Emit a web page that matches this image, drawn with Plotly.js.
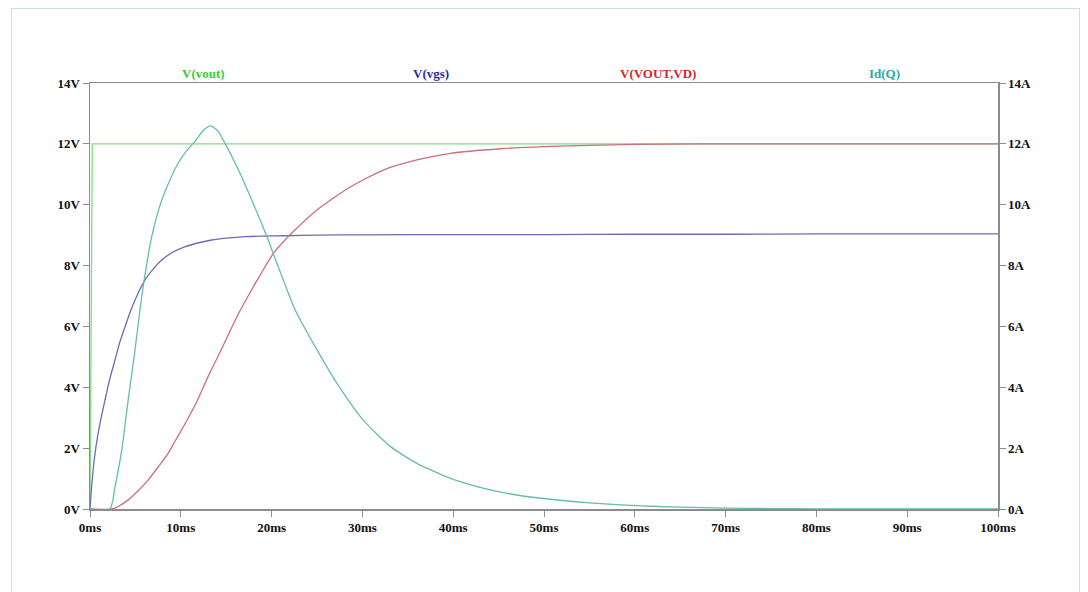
<!DOCTYPE html>
<html>
<head>
<meta charset="utf-8">
<script src="https://cdn.plot.ly/plotly-3.0.1.min.js"></script>
<style>
  html, body { margin: 0; padding: 0; background: #ffffff; }
  #frame { position: absolute; left: 11px; top: 8px; width: 1069px; height: 640px; border: 1px solid #cddfe8; box-sizing: border-box; }
  #chart { position: absolute; left: 0; top: 0; width: 1088px; height: 592px; }
</style>
</head>
<body>
<div id="frame"></div>
<div id="chart"></div>
<script>
// ---- data (time in ms) ----
const seriesNames = ["V(vout)", "V(vgs)", "V(VOUT,VD)", "Id(Q)"];

const tVout = [0, 0.25, 100];
const vVout = [0, 12, 12];

const tVgs = [0, 0.18, 0.5, 0.9, 1.3, 1.65, 2.2, 2.76, 3.3, 3.86, 4.4, 4.96, 6.06, 7.0, 7.9, 9.0, 10.5, 12.0, 13.4, 15.0, 17.1, 19.0, 21.5, 25, 30, 40, 50, 60, 70, 80, 90, 100];
const vVgs = [0, 0.73, 1.7, 2.49, 3.1, 3.58, 4.3, 4.9, 5.5, 5.99, 6.45, 6.87, 7.53, 7.9, 8.18, 8.42, 8.62, 8.75, 8.84, 8.9, 8.95, 8.97, 8.98, 9.0, 9.01, 9.02, 9.02, 9.03, 9.03, 9.04, 9.04, 9.04];

const tVd = [0, 2.4, 3.2, 4.2, 5.3, 6.4, 7.5, 8.6, 9.5, 10.5, 11.8, 13.0, 14.2, 15.3, 16.4, 17.6, 18.8, 20.2, 22.2, 25, 28.7, 32.3, 36, 39.7, 45.2, 50, 55, 60, 67, 80, 100];
const vVd = [0, 0, 0.1, 0.3, 0.6, 0.95, 1.38, 1.83, 2.3, 2.82, 3.55, 4.35, 5.08, 5.77, 6.45, 7.1, 7.72, 8.4, 9.06, 9.83, 10.59, 11.14, 11.47, 11.69, 11.84, 11.91, 11.95, 11.98, 12.0, 12.0, 12.0];

const tId = [0, 2.2, 2.76, 3.5, 4.2, 4.96, 5.5, 6.06, 6.8, 7.9, 9.4, 10.5, 11.6, 12.5, 13.3, 14.1, 14.9, 15.8, 16.7, 17.6, 18.9, 19.7, 20.5, 21.5, 22.6, 25, 27.2, 30.1, 33.1, 36, 39.7, 43.4, 47, 50.7, 55, 60, 65, 70, 75, 80, 90, 100];
const iId = [0, 0, 0.73, 1.94, 3.58, 5.23, 6.54, 7.7, 8.95, 10.15, 11.2, 11.72, 12.1, 12.45, 12.59, 12.42, 12.0, 11.48, 10.92, 10.3, 9.38, 8.78, 8.14, 7.36, 6.54, 5.23, 4.13, 2.92, 2.05, 1.5, 1.01, 0.68, 0.46, 0.32, 0.2, 0.11, 0.06, 0.03, 0.015, 0.005, 0, 0];

const xTicks = [0, 10, 20, 30, 40, 50, 60, 70, 80, 90, 100];
const xTickLabels = ["0ms", "10ms", "20ms", "30ms", "40ms", "50ms", "60ms", "70ms", "80ms", "90ms", "100ms"];
const yTicks = [0, 2, 4, 6, 8, 10, 12, 14];
const yTickLabelsV = ["0V", "2V", "4V", "6V", "8V", "10V", "12V", "14V"];
const yTickLabelsA = ["0A", "2A", "4A", "6A", "8A", "10A", "12A", "14A"];

// ---- styles ----
const lineColors = ["#7fdc7f", "#6c6cb0", "#c9707c", "#66bcb0"];
const labelColors = ["#3ccc3c", "#2a2aa8", "#d42828", "#2aaaa4"];
const serif = "Liberation Serif, Times New Roman, serif";
const tickFont = { family: serif, size: 13, color: "#111111", weight: "bold" };

const traces = [
  { x: tVout, y: vVout, name: seriesNames[0], yaxis: "y", line: { color: lineColors[0], width: 1.3 } },
  { x: tVgs, y: vVgs, name: seriesNames[1], yaxis: "y", line: { color: lineColors[1], width: 1.3, shape: "spline", smoothing: 0.6 } },
  { x: tVd, y: vVd, name: seriesNames[2], yaxis: "y", line: { color: lineColors[2], width: 1.3, shape: "spline", smoothing: 0.6 } },
  { x: tId, y: iId, name: seriesNames[3], yaxis: "y2", line: { color: lineColors[3], width: 1.3, shape: "spline", smoothing: 0.6 } }
].map(t => Object.assign({ type: "scatter", mode: "lines", hoverinfo: "skip" }, t));

const axisCommon = {
  showgrid: false, zeroline: false, showline: true, linecolor: "#8c8c8c", linewidth: 1.5,
  ticks: "outside", ticklen: 6, tickwidth: 1, tickcolor: "#8c8c8c", tickfont: tickFont,
  fixedrange: true
};

const annotations = seriesNames.map((n, i) => ({
  text: "<b>" + n + "</b>", xref: "paper", yref: "paper", x: (2 * i + 1) / 8, y: 1, yshift: 10,
  xanchor: "center", yanchor: "middle", showarrow: false,
  font: { family: serif, size: 13, color: labelColors[i] }
}));

const layout = {
  width: 1088, height: 592,
  margin: { l: 90, r: 90, t: 83, b: 83 },
  paper_bgcolor: "rgba(0,0,0,0)", plot_bgcolor: "#ffffff",
  showlegend: false,
  xaxis: Object.assign({}, axisCommon, { range: [0, 100], tickvals: xTicks, ticktext: xTickLabels, mirror: true }),
  yaxis: Object.assign({}, axisCommon, { range: [0, 14], tickvals: yTicks, ticktext: yTickLabelsV, mirror: true }),
  yaxis2: Object.assign({}, axisCommon, { range: [0, 14], tickvals: yTicks, ticktext: yTickLabelsA, overlaying: "y", side: "right" }),
  annotations: annotations
};

Plotly.newPlot("chart", traces, layout, { staticPlot: true, displayModeBar: false });
</script>
</body>
</html>
